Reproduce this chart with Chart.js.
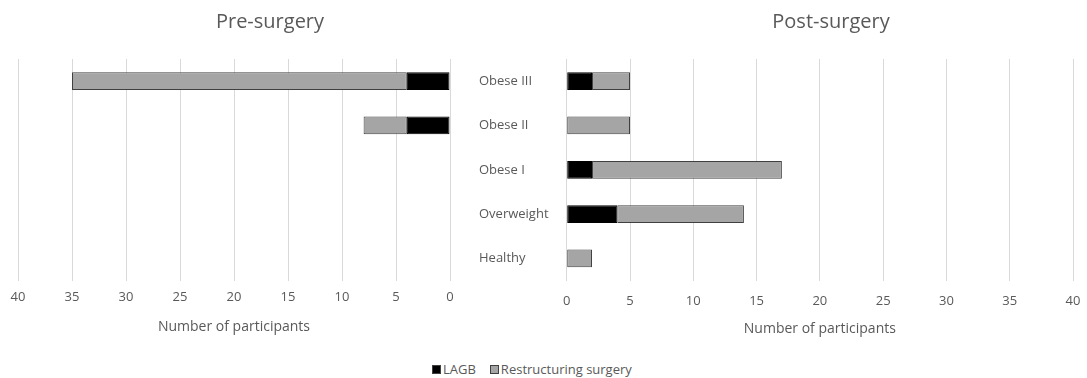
<!DOCTYPE html>
<html>
<head>
<meta charset="utf-8">
<script src="https://cdn.jsdelivr.net/npm/chart.js@4/dist/chart.umd.min.js"></script>
<style>
  html, body { margin: 0; padding: 0; background: #fff; overflow: hidden; width: 1087px; height: 378px; }
  #pre { position: absolute; left: -12px; top: 0; }
  #post { position: absolute; left: 550px; top: 0; }
  #legend { position: absolute; left: 432px; top: 360px; display: flex; align-items: center;
            font: 13px "Open Sans", sans-serif; color: #595959; white-space: nowrap; }
  #legend .item { display: flex; align-items: center; margin-right: 14px; }
  #legend .box { width: 7px; height: 7px; border: 1px solid #404040; margin-right: 2px; }
</style>
</head>
<body>
<canvas id="pre" width="564" height="345"></canvas>
<canvas id="post" width="562" height="345"></canvas>
<div id="legend"></div>
<script>
// BMI categories, top to bottom
const categories = ['Obese III', 'Obese II', 'Obese I', 'Overweight', 'Healthy'];
const seriesNames = ['LAGB', 'Restructuring surgery'];

// Participants per category before surgery
const preLAGB = [4, 4, 0, 0, 0];
const preRestructuring = [31, 4, 0, 0, 0];

// Participants per category after surgery
const postLAGB = [2, 0, 2, 4, 0];
const postRestructuring = [3, 5, 15, 10, 2];

const axisMax = 40;
const axisStep = 5;

const FONT = '"Open Sans", sans-serif';
const TEXT = '#595959';
const GRID = '#d9d9d9';
const COLORS = ['#000000', '#a5a5a5'];
const EDGE = '#404040';

function datasets(lagb, restructuring) {
  return [lagb, restructuring].map((data, i) => ({
    label: seriesNames[i],
    data: data,
    backgroundColor: COLORS[i],
    borderColor: i === 0 ? '#000000' : EDGE,
    borderWidth: 1,
    borderSkipped: false,
    categoryPercentage: 1,
    barPercentage: 0.4
  }));
}

// Empty side axis that only reserves horizontal room beside the plot
function spacer(position, width) {
  return {
    type: 'category',
    position: position,
    display: true,
    grid: { display: false, drawTicks: false },
    border: { display: false },
    ticks: { display: false },
    afterFit(scale) { scale.width = width; }
  };
}

function options(title, reverse, extra) {
  return {
    indexAxis: 'y',
    responsive: false,
    animation: false,
    layout: { padding: { left: 0, right: 0, top: 0, bottom: extra.bottom } },
    plugins: {
      legend: { display: false },
      tooltip: { enabled: false },
      title: {
        display: true,
        text: title,
        color: TEXT,
        font: { family: FONT, size: 20, weight: 'normal' },
        padding: { top: 10, bottom: 25 }
      }
    },
    scales: Object.assign({
      x: {
        stacked: true,
        reverse: reverse,
        min: 0,
        max: axisMax,
        grid: { color: GRID, lineWidth: 1, drawTicks: false },
        border: { display: false },
        ticks: { stepSize: axisStep, color: TEXT, font: { family: FONT, size: 13 }, padding: extra.tickPad },
        title: {
          display: true,
          text: 'Number of participants',
          color: TEXT,
          font: { family: FONT, size: 14 },
          padding: { top: extra.titlePad, bottom: 4 }
        }
      }
    }, extra.y)
  };
}

new Chart(document.getElementById('pre'), {
  type: 'bar',
  data: { labels: categories, datasets: datasets(preLAGB, preRestructuring) },
  options: options('Pre-surgery', true, {
    bottom: 6,
    tickPad: 9,
    titlePad: 4,
    y: {
      y: {
        stacked: true,
        position: 'right',
        grid: { display: false, drawTicks: false },
        border: { display: false },
        ticks: { crossAlign: 'near', padding: 29, color: TEXT, font: { family: FONT, size: 13 } },
        afterFit(scale) { scale.width = 102; }
      },
      yGap: spacer('left', 30)
    }
  })
});

new Chart(document.getElementById('post'), {
  type: 'bar',
  data: { labels: categories, datasets: datasets(postLAGB, postRestructuring) },
  options: options('Post-surgery', false, {
    bottom: 4,
    tickPad: 13,
    titlePad: -2,
    y: {
      y: Object.assign(spacer('left', 15), { stacked: true }),
      yGap: spacer('right', 39)
    }
  })
});

// Legend built from the series names and colours
const legend = document.getElementById('legend');
seriesNames.forEach((name, i) => {
  const item = document.createElement('span');
  item.className = 'item';
  const box = document.createElement('span');
  box.className = 'box';
  box.style.background = COLORS[i];
  const label = document.createElement('span');
  label.textContent = name;
  item.appendChild(box);
  item.appendChild(label);
  legend.appendChild(item);
});
</script>
</body>
</html>
